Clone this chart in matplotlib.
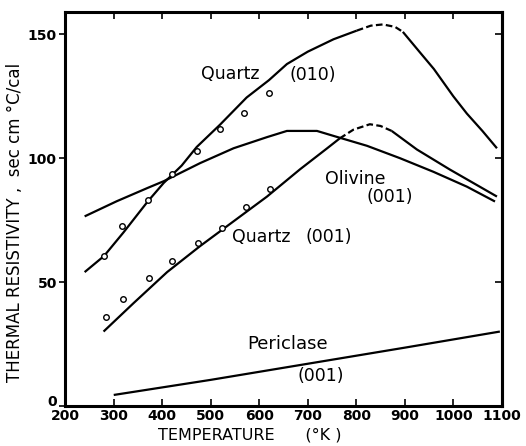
import matplotlib
matplotlib.use("Agg")
from matplotlib import pyplot as plt
from matplotlib import transforms

# curves: temperature (K) and thermal resistivity
q010_t = [240, 280, 320, 370, 403, 440, 471, 519, 574, 620, 657, 700, 753, 801]
q010_r = [54, 60.5, 70, 82.5, 90, 97, 104.5, 113.5, 124.5, 131.5, 138, 143, 148, 151.5]
q010_dash_t = [801, 830, 855, 880, 896]
q010_dash_r = [151.5, 153.5, 154, 153, 151]
q010_hi_t = [896, 930, 960, 1000, 1028, 1060, 1090]
q010_hi_r = [151, 143, 136, 125, 118, 111, 104]

oliv_t = [240, 306, 370, 403, 478, 547, 616, 657, 719, 753, 822, 890, 959, 1028, 1086]
oliv_r = [76.5, 82.6, 88, 90.7, 98, 104, 108.5, 111, 111, 109, 105, 100, 94.5, 88.5, 82.5]

q001_t = [279, 341, 410, 478, 547, 616, 684, 740, 766]
q001_r = [30, 41.5, 54, 64.5, 74.5, 84.5, 95.5, 104, 108]
q001_dash_t = [766, 794, 828, 850, 873]
q001_dash_r = [108, 111.5, 113.7, 113, 111]
q001_hi_t = [873, 925, 993, 1090]
q001_hi_r = [111, 103.5, 95.4, 84.5]

peri_t = [300, 500, 700, 900, 1096]
peri_r = [4.4, 10.5, 17, 23.5, 30]

# measured points (open circles)
q010_pts_t = [280, 318, 371, 420, 471, 519, 569, 620]
q010_pts_r = [60.6, 72.8, 83.3, 93.8, 102.8, 111.9, 118.3, 126.3]
q001_pts_t = [284, 320, 372, 421, 474, 524, 572, 622]
q001_pts_r = [35.8, 43.3, 51.6, 58.4, 65.8, 72.0, 80.3, 87.6]

xticks = [200, 300, 400, 500, 600, 700, 800, 900, 1000, 1100]
yticks = [0, 50, 100, 150]

plt.rcParams['font.family'] = ['DejaVu Sans']

fig = plt.figure(figsize=(5.26, 4.46), dpi=100)
ax = fig.add_axes([0.124, 0.09, 0.830, 0.883])

lw = 1.6
for t, r in [(q010_t, q010_r), (q010_hi_t, q010_hi_r), (oliv_t, oliv_r),
             (q001_t, q001_r), (q001_hi_t, q001_hi_r), (peri_t, peri_r)]:
    ax.plot(t, r, color='black', lw=lw, solid_capstyle='butt')
for t, r in [(q010_dash_t, q010_dash_r), (q001_dash_t, q001_dash_r)]:
    ax.plot(t, r, color='black', lw=lw, ls=(0, (3, 1.5)))

ax.plot(q010_pts_t, q010_pts_r, 'o', mfc='white', mec='black', ms=4, mew=1)
ax.plot(q001_pts_t, q001_pts_r, 'o', mfc='white', mec='black', ms=4, mew=1)

# curve labels
fs = 12.5
ax.text(540, 134, 'Quartz', fontsize=fs, ha='center', va='center')
ax.text(711, 133.5, '(010)', fontsize=fs, ha='center', va='center')
ax.text(797, 91.5, 'Olivine', fontsize=fs, ha='center', va='center')
ax.text(869, 84.3, '(001)', fontsize=fs, ha='center', va='center')
ax.text(604, 68, 'Quartz', fontsize=fs, ha='center', va='center')
ax.text(744, 68, '(001)', fontsize=fs, ha='center', va='center')
ax.text(659, 25, 'Periclase', fontsize=13, ha='center', va='center')
ax.text(727, 12, '(001)', fontsize=fs, ha='center', va='center')

ax.set_xlim(200, 1100)
ax.set_ylim(0, 159)
ax.set_xticks(xticks)
ax.set_yticks(yticks)
ax.tick_params(axis='x', direction='in', top=True, length=5, width=1.2,
               labelsize=10, pad=2)
ax.tick_params(axis='y', direction='out', length=4, width=1.2,
               labelsize=10, pad=2)
for lbl in ax.get_xticklabels() + ax.get_yticklabels():
    lbl.set_fontweight('bold')
# "0" sits a little above its tick in the original
ylbls = ax.get_yticklabels()
ylbls[0].set_transform(ylbls[0].get_transform() +
                       transforms.ScaledTranslation(0, 5 / 100, fig.dpi_scale_trans))

# right-hand ticks point inward
rax = ax.secondary_yaxis('right')
rax.set_yticks(yticks)
rax.tick_params(direction='in', length=5, width=1.2, labelright=False)

for s in ax.spines.values():
    s.set_linewidth(2.2)
rax.spines['right'].set_linewidth(2.2)

ax.set_xlabel('TEMPERATURE      (°K )', fontsize=11.5)
ax.xaxis.set_label_coords(0.423, -0.055)
ax.set_ylabel('THERMAL RESISTIVITY ,  sec cm °C/cal', fontsize=12)
ax.yaxis.set_label_coords(-0.094, 0.465)

fig.savefig('out.png', dpi=100)
